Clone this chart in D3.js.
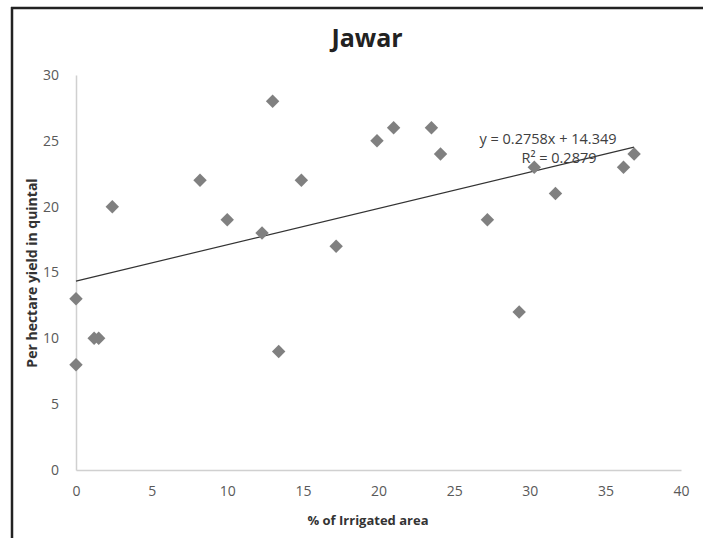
<!DOCTYPE html>
<html>
<head>
<meta charset="utf-8">
<script src="https://cdn.jsdelivr.net/npm/d3@7"></script>
<style>
  body { margin: 0; background: #fff; }
  svg { display: block; font-family: "Open Sans", "Liberation Sans", sans-serif; }
</style>
</head>
<body>
<script>
 // Data: % irrigated area vs per hectare yield
 var irrigated = [0, 0, 1.2, 1.5, 2.4, 8.2, 10, 12.3, 13, 13.4, 14.9, 17.2, 19.9, 21, 23.5, 24.1, 27.2, 29.3, 30.3, 31.7, 36.2, 36.9];
 var yieldQ = [13, 8, 10, 10, 20, 22, 19, 18, 28, 9, 22, 17, 25, 26, 26, 24, 19, 12, 23, 21, 23, 24];
 var xTicks = [0, 5, 10, 15, 20, 25, 30, 35, 40];
 var yTicks = [0, 5, 10, 15, 20, 25, 30];
 var slope = 0.2758, intercept = 14.349;
 var trendLabel = "y = 0.2758x + 14.349";
 var r2Label = "R² = 0.2879";

 var width = 703, height = 538;

 var svg = d3.select("body")
     .append("svg")
     .attr("width", width)
     .attr("height", height);

 // frame (top and left edges visible)
 svg.append("line").attr("x1", 11).attr("x2", 703).attr("y1", 8).attr("y2", 8)
     .attr("stroke", "#222").attr("stroke-width", 2.5);
 svg.append("line").attr("x1", 12).attr("x2", 12).attr("y1", 7).attr("y2", 538)
     .attr("stroke", "#222").attr("stroke-width", 2.5);

 var x = d3.scaleLinear().domain([0, 40]).range([76, 681]);
 var y = d3.scaleLinear().domain([0, 30]).range([470, 75]);

 // axes
 var xAxis = svg.append("g")
     .attr("transform", "translate(0," + y(0) + ")")
     .call(d3.axisBottom(x).tickValues(xTicks).tickSize(0).tickPadding(16));
 var yAxis = svg.append("g")
     .attr("transform", "translate(" + x(0) + ",0)")
     .call(d3.axisLeft(y).tickValues(yTicks).tickSize(0).tickPadding(17));

 [xAxis, yAxis].forEach(function(g) {
     g.select(".domain").attr("stroke", "#d0d0d0").attr("stroke-width", 1.5);
     g.selectAll("text")
         .attr("fill", "#595959")
         .style("font-size", "14px")
         .style("font-family", "'Open Sans', sans-serif");
 });

 // trend line
 var xMax = d3.max(irrigated);
 svg.append("line")
     .attr("x1", x(0)).attr("y1", y(intercept))
     .attr("x2", x(xMax)).attr("y2", y(slope * xMax + intercept))
     .attr("stroke", "#333").attr("stroke-width", 1.2);

 // points
 var diamond = d3.symbol().type(d3.symbolDiamond2).size(115);
 svg.append("g").selectAll("path")
     .data(irrigated.map(function(v, i) { return [v, yieldQ[i]]; }))
     .enter()
     .append("path")
     .attr("d", diamond)
     .attr("transform", function(d) { return "translate(" + x(d[0]) + "," + y(d[1]) + ")"; })
     .attr("fill", "#808080");

 // equation labels
 svg.append("text")
     .attr("x", 548).attr("y", 144)
     .attr("text-anchor", "middle")
     .attr("fill", "#404040")
     .style("font-size", "14.5px")
     .text(trendLabel);
 svg.append("text")
     .attr("x", 559).attr("y", 163)
     .attr("text-anchor", "middle")
     .attr("fill", "#404040")
     .style("font-size", "14.5px")
     .text(r2Label);

 // titles
 svg.append("text")
     .attr("x", 367).attr("y", 47)
     .attr("text-anchor", "middle")
     .attr("fill", "#222")
     .style("font-size", "25px")
     .style("font-weight", "bold")
     .text("Jawar");
 svg.append("text")
     .attr("x", 368).attr("y", 525)
     .attr("text-anchor", "middle")
     .attr("fill", "#333")
     .style("font-size", "13px")
     .style("font-weight", "bold")
     .text("% of Irrigated area");
 svg.append("text")
     .attr("transform", "translate(37,273) rotate(-90)")
     .attr("text-anchor", "middle")
     .attr("fill", "#333")
     .style("font-size", "14px")
     .style("font-weight", "bold")
     .text("Per hectare yield in quintal");
</script>
</body>
</html>
